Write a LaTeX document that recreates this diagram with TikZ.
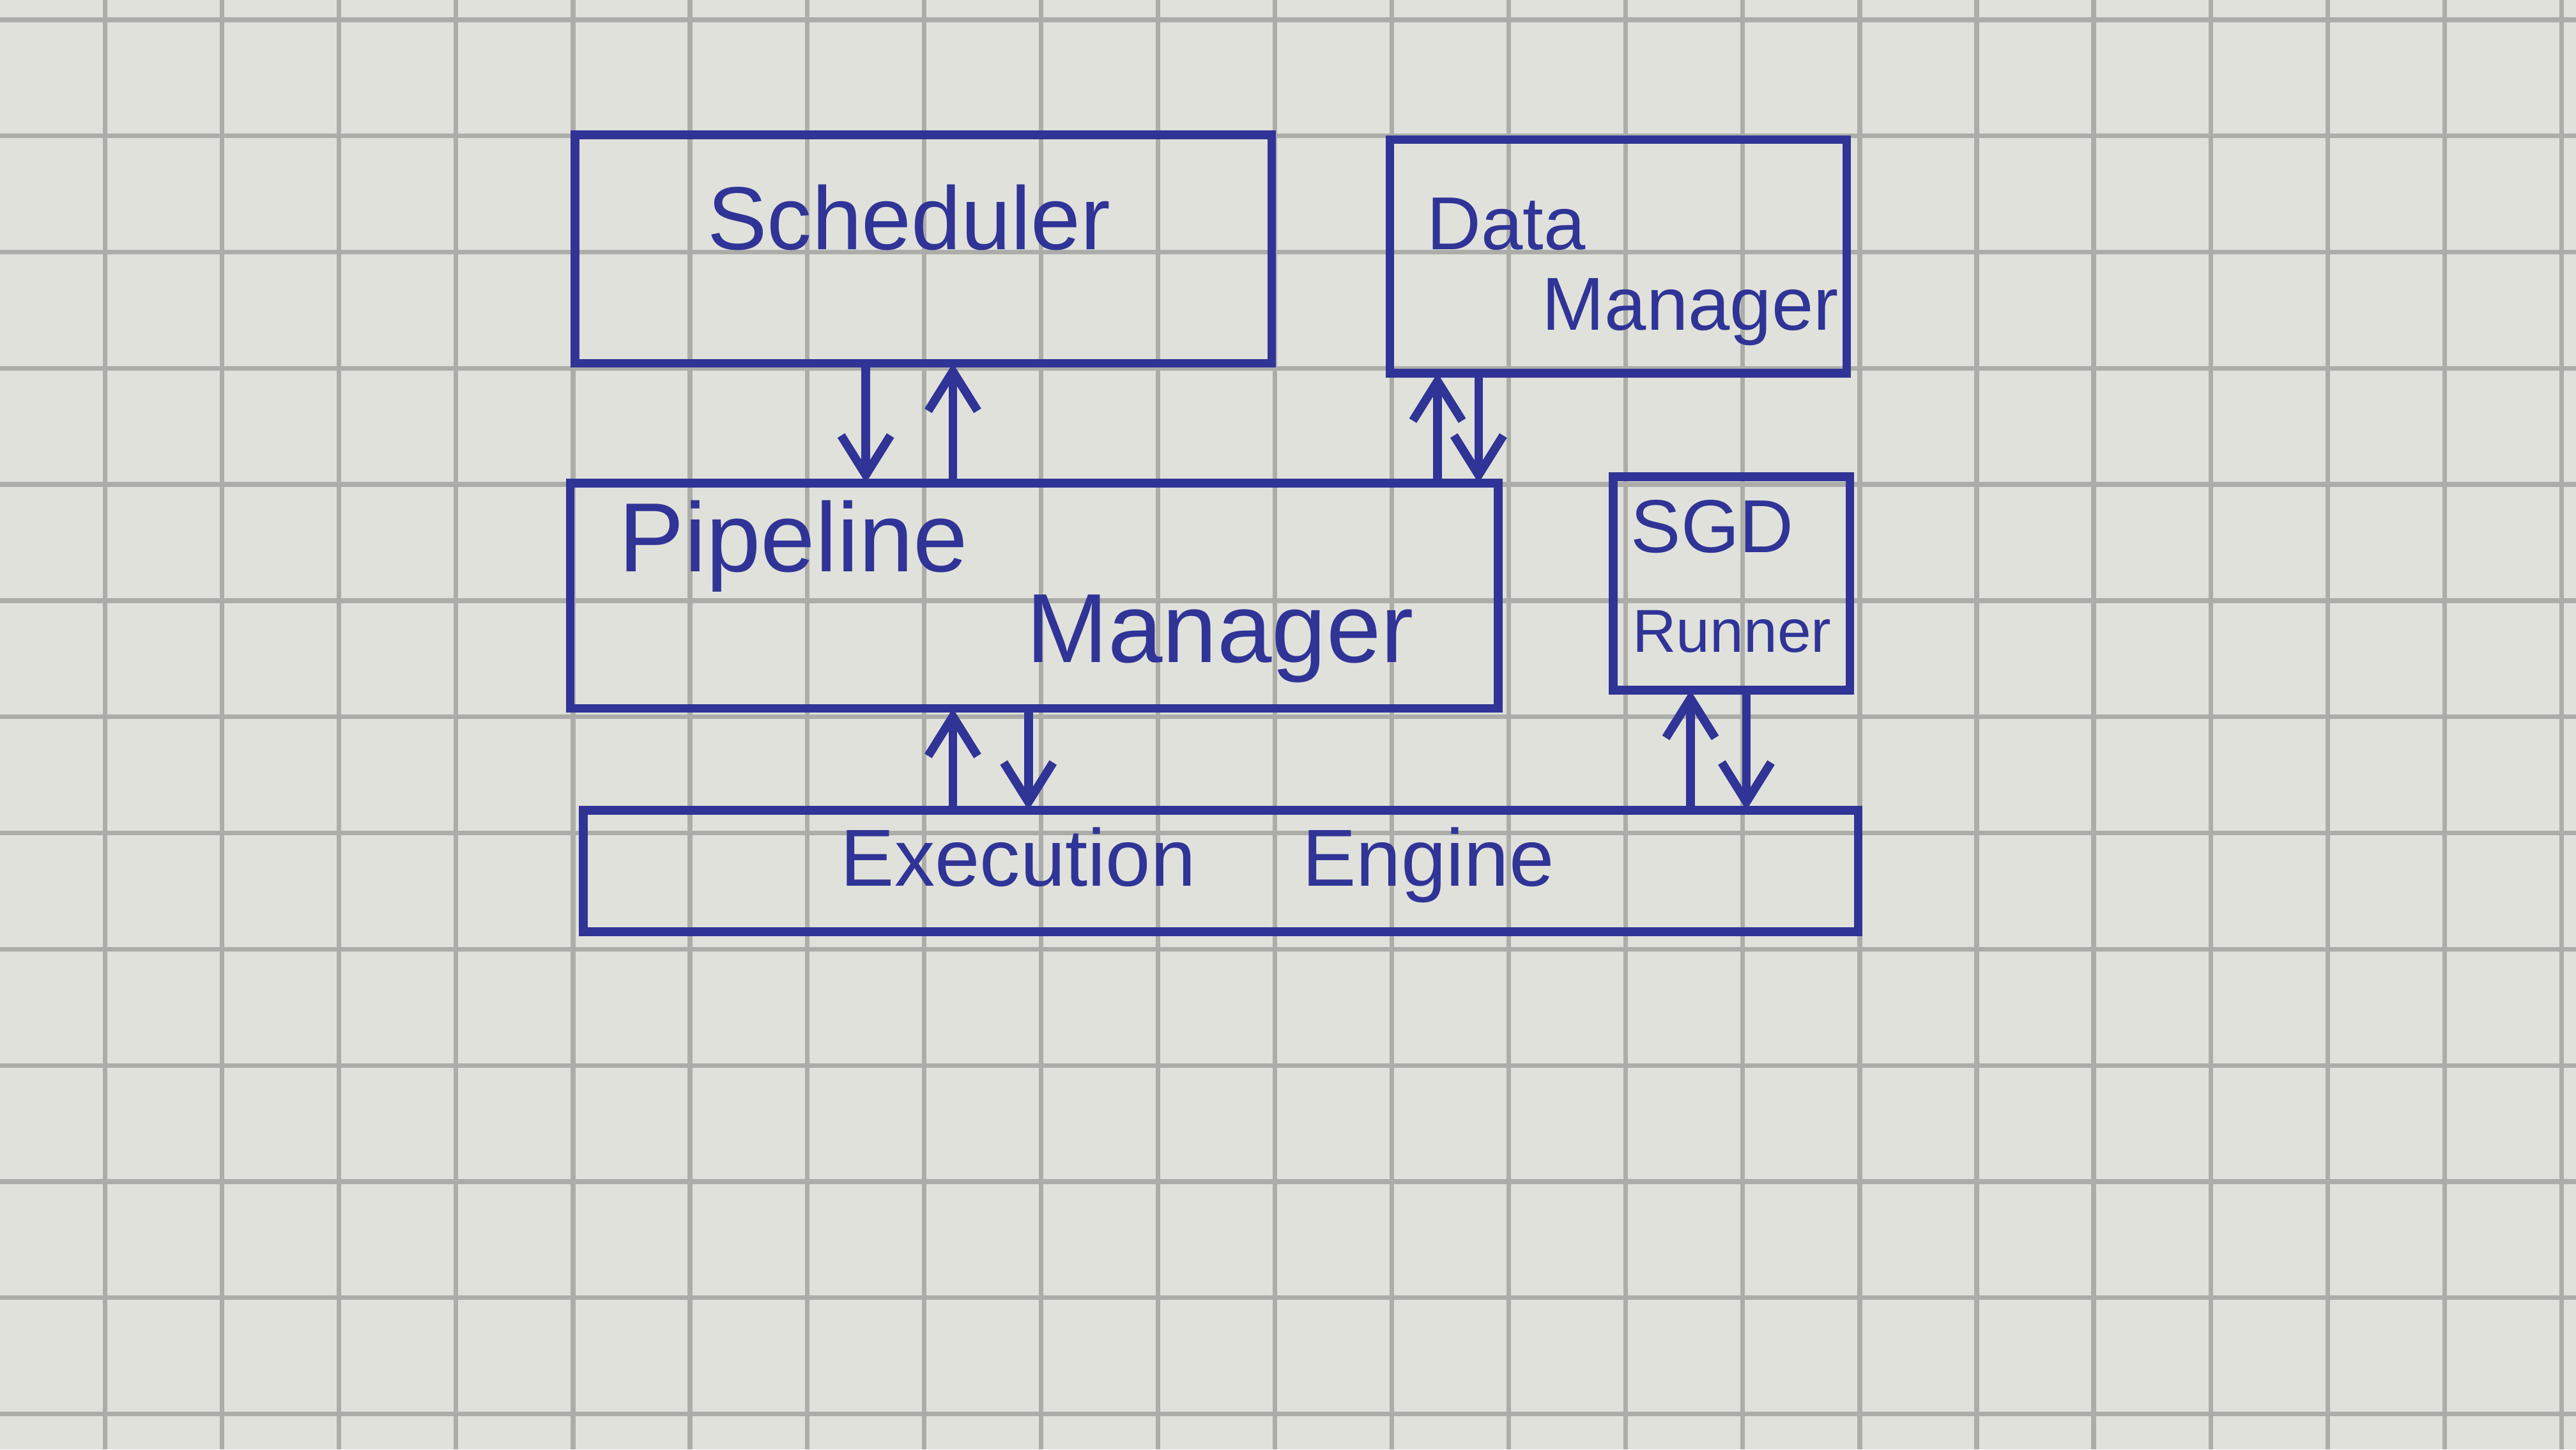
\documentclass[tikz,border=0pt]{standalone}
\usepackage{fontspec}
\setmainfont{Liberation Sans}
\usetikzlibrary{arrows.meta,positioning}
\definecolor{ink_blue}{RGB}{48,52,150}
\definecolor{paper_grey}{RGB}{224,225,219}
\definecolor{grid_grey}{RGB}{172,173,168}

\begin{document}
\begin{tikzpicture}[x=1cm, y=-1cm,
    box/.style={draw=ink_blue, line width=1.5pt, rectangle, inner sep=0pt,
      outer sep=0pt, anchor=north west},
    lbl/.style={text=ink_blue, inner sep=0pt, anchor=base west},
    flow/.style={draw=ink_blue, line width=1.5pt,
      -{Straight Barb[length=2.4mm, width=3mm]}}]
  % Squared paper
  \fill[paper_grey] (0,0) rectangle (15.68,8.82);
  \useasboundingbox (0,0) rectangle (15.68,8.82);
  \foreach \i in {0,...,21}
    \draw[grid_grey, line width=0.8pt] ({0.64+0.712*\i},0) -- ({0.64+0.712*\i},8.82);
  \foreach \j in {0,...,12}
    \draw[grid_grey, line width=0.8pt] (0,{0.12+0.707*\j}) -- (15.68,{0.12+0.707*\j});

  % Boxes
  \node[box, minimum width=4.24cm, minimum height=1.39cm] (sched) at (3.50,0.82) {};
  \node[box, minimum width=2.78cm, minimum height=1.42cm] (data) at (8.46,0.85) {};
  \node[box, minimum width=5.65cm, minimum height=1.37cm] (pipe) at (3.47,2.94) {};
  \node[box, minimum width=1.44cm, minimum height=1.30cm] (sgd) at (9.82,2.90) {};
  \node[box, minimum width=7.76cm, minimum height=0.74cm] (exec) at (3.55,4.93) {};

  % Labels
  \node[lbl, font=\fontsize{15.5}{18}\selectfont] (schedtxt) at (4.30,1.52) {Scheduler};
  \node[lbl, font=\fontsize{13}{15}\selectfont] (datatxt) at (8.68,1.52) {Data};
  \node[lbl, font=\fontsize{13}{15}\selectfont] (datamgr) at (9.38,2.01) {Manager};
  \node[lbl, font=\fontsize{17}{20}\selectfont] (pipetxt) at (3.76,3.48) {Pipeline};
  \node[lbl, font=\fontsize{17}{20}\selectfont] (pipemgr) at (6.24,4.03) {Manager};
  \node[lbl, font=\fontsize{13}{15}\selectfont] (sgdtxt) at (9.92,3.36) {SGD};
  \node[lbl, font=\fontsize{10.5}{13}\selectfont] (sgdrun) at (9.93,3.97) {Runner};
  \node[lbl, font=\fontsize{14}{17}\selectfont] (exectxt) at (5.11,5.39)
    {Execution\hspace{0.65cm}Engine};

  % Scheduler <-> Pipeline Manager
  \coordinate (sp_down) at (5.27,0);
  \coordinate (sp_up) at (5.80,0);
  \draw[flow] (sp_down |- sched.south) -- (sp_down |- pipe.north);
  \draw[flow] (sp_up |- pipe.north) -- (sp_up |- sched.south);
  % Data Manager <-> Pipeline Manager
  \coordinate (dp_up) at (8.75,0);
  \coordinate (dp_down) at (9.00,0);
  \draw[flow] (dp_up |- pipe.north) -- (dp_up |- data.south);
  \draw[flow] (dp_down |- data.south) -- (dp_down |- pipe.north);
  % Pipeline Manager <-> Execution Engine
  \coordinate (pe_up) at (5.80,0);
  \coordinate (pe_down) at (6.26,0);
  \draw[flow] (pe_up |- exec.north) -- (pe_up |- pipe.south);
  \draw[flow] (pe_down |- pipe.south) -- (pe_down |- exec.north);
  % SGD Runner <-> Execution Engine
  \coordinate (se_up) at (10.29,0);
  \coordinate (se_down) at (10.63,0);
  \draw[flow] (se_up |- exec.north) -- (se_up |- sgd.south);
  \draw[flow] (se_down |- sgd.south) -- (se_down |- exec.north);
\end{tikzpicture}
\end{document}
